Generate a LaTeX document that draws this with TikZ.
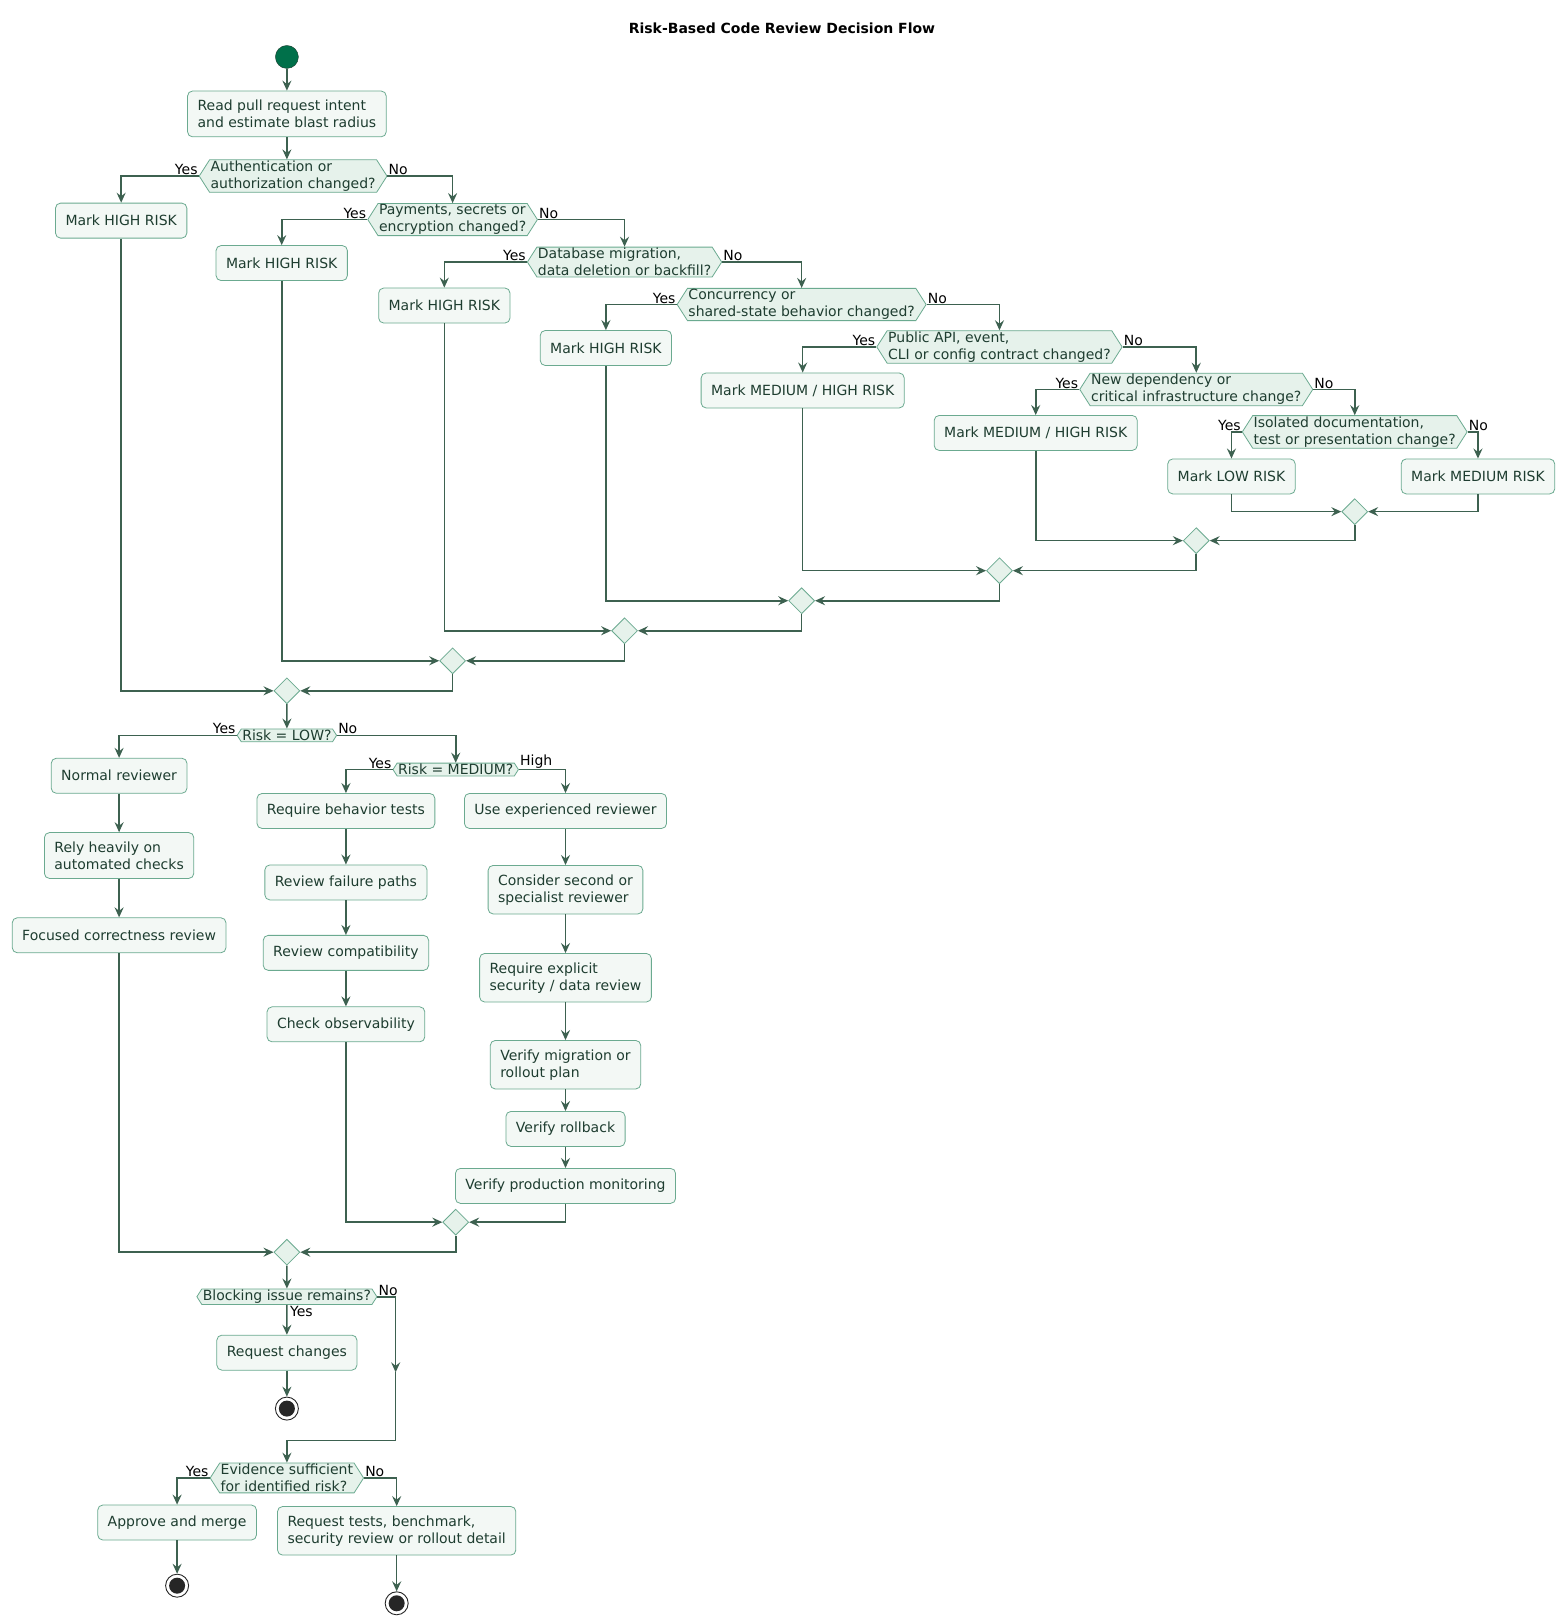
\documentclass[tikz,border=0pt]{standalone}
\usepackage{fontspec}
\setmainfont{DejaVu Sans}
\usetikzlibrary{arrows.meta,shapes.geometric,shapes.symbols,positioning}
\definecolor{boxFill}{HTML}{F3F8F5}
\definecolor{boxLine}{HTML}{6BAA90}
\definecolor{hexFill}{HTML}{E6F2EB}
\definecolor{inkColor}{HTML}{1E3D30}
\definecolor{flowColor}{HTML}{3D6150}
\definecolor{startColor}{HTML}{00704A}
\tikzset{
  >={Stealth[length=10pt,width=9pt,inset=3.5pt]},
  box/.style={rectangle,rounded corners=5pt,draw=boxLine,fill=boxFill,line width=0.8pt,
    text=inkColor,align=left,inner xsep=10pt,inner ysep=9pt,minimum height=35pt,
    font=\fontsize{14}{17}\selectfont},
  hex/.style={signal,signal to=west and east,signal pointer angle=115,draw=boxLine,fill=hexFill,
    line width=0.8pt,text=inkColor,align=left,inner xsep=1pt,inner ysep=1pt,
    font=\fontsize{14}{17}\selectfont},
  merge/.style={diamond,draw=boxLine,fill=hexFill,line width=0.8pt,minimum size=26pt,inner sep=0pt},
  flow/.style={draw=flowColor,line width=1.6pt,->},
  line/.style={draw=flowColor,line width=1.6pt},
  lab/.style={font=\fontsize{14}{17}\selectfont,inner sep=1pt},
  stop/.style={circle,draw=black!85,fill=white,line width=0.9pt,minimum size=23pt,inner sep=0pt,
    path picture={\fill[black!85] (path picture bounding box.center) circle (8pt);}}
}
\begin{document}
\begin{tikzpicture}[x=1.036pt,y=-1.036pt]
\useasboundingbox[fill=white] (0,0) rectangle (1510,1568);
\node[font=\bfseries\fontsize{14}{17}\selectfont] (title) at (755,27) {Risk-Based Code Review Decision Flow};
% start and first check
\node[circle,fill=startColor,draw=inkColor,minimum size=23pt,inner sep=0pt] (start) at (277,55) {};
\node[box] (read) at (277,110) {Read pull request intent\\and estimate blast radius};
\node[hex] (auth) at (283,170) {Authentication or\\authorization changed?};
\node[box] (markA) at (117,213) {Mark HIGH RISK};
\node[hex] (pay) at (437,212) {Payments, secrets or\\encryption changed?};
\node[box] (markB) at (272,254) {Mark HIGH RISK};
\node[hex] (db) at (603,253) {Database migration,\\data deletion or backfill?};
\node[box] (markC) at (429,295) {Mark HIGH RISK};
\node[hex] (conc) at (774,294) {Concurrency or\\shared-state behavior changed?};
\node[box] (markD) at (585,336) {Mark HIGH RISK};
\node[hex] (api) at (965,335) {Public API, event,\\CLI or config contract changed?};
\node[box] (markE) at (775,377) {Mark MEDIUM / HIGH RISK};
\node[hex] (dep) at (1155,376) {New dependency or\\critical infrastructure change?};
\node[box] (markF) at (1000,418) {Mark MEDIUM / HIGH RISK};
\node[hex] (doc) at (1308,417) {Isolated documentation,\\test or presentation change?};
\node[box] (markLow) at (1189,460) {Mark LOW RISK};
\node[box] (markMed) at (1427,460) {Mark MEDIUM RISK};
\node[merge] (mG) at (1308,494) {};
\node[merge] (mF) at (1155,522) {};
\node[merge] (mE) at (965,551) {};
\node[merge] (mD) at (774,580) {};
\node[merge] (mC) at (603,609) {};
\node[merge] (mB) at (437,638) {};
\node[merge] (mA) at (277,667) {};
% review paths
\node[hex] (low) at (277,710) {Risk = LOW?};
\node[box] (normal) at (115,749) {Normal reviewer};
\node[box] (rely) at (115,826) {Rely heavily on\\automated checks};
\node[box] (focus) at (115,903) {Focused correctness review};
\node[hex] (med) at (440,743) {Risk = MEDIUM?};
\node[box] (behav) at (334,783) {Require behavior tests};
\node[box] (fail) at (334,852) {Review failure paths};
\node[box] (compat) at (334,920) {Review compatibility};
\node[box] (observ) at (334,989) {Check observability};
\node[box] (exper) at (546,783) {Use experienced reviewer};
\node[box] (second) at (546,859) {Consider second or\\specialist reviewer};
\node[box] (secur) at (546,944) {Require explicit\\security / data review};
\node[box] (migr) at (546,1028) {Verify migration or\\rollout plan};
\node[box] (rollb) at (546,1090) {Verify rollback};
\node[box] (monit) at (546,1145) {Verify production monitoring};
\node[merge] (mMed) at (440,1180) {};
\node[merge] (mLow) at (277,1209) {};
% final decisions
\node[hex] (block) at (277,1252) {Blocking issue remains?};
\node[box] (changes) at (277,1306) {Request changes};
\node[stop] (stopA) at (277,1360) {};
\coordinate (skipA) at (382,1325);
\coordinate (skipB) at (382,1391);
\node[hex] (evid) at (277,1427) {Evidence sufficient\\for identified risk?};
\node[box] (approve) at (171,1470) {Approve and merge};
\node[stop] (stopB) at (171,1531) {};
\node[box] (more) at (383,1478) {Request tests, benchmark,\\security review or rollout detail};
\node[stop] (stopC) at (383,1548) {};
% labels
\node[lab,anchor=south east] at (auth.west) {Yes};
\node[lab,anchor=south west] at (auth.east) {No};
\node[lab,anchor=south east] at (pay.west) {Yes};
\node[lab,anchor=south west] at (pay.east) {No};
\node[lab,anchor=south east] at (db.west) {Yes};
\node[lab,anchor=south west] at (db.east) {No};
\node[lab,anchor=south east] at (conc.west) {Yes};
\node[lab,anchor=south west] at (conc.east) {No};
\node[lab,anchor=south east] at (api.west) {Yes};
\node[lab,anchor=south west] at (api.east) {No};
\node[lab,anchor=south east] at (dep.west) {Yes};
\node[lab,anchor=south west] at (dep.east) {No};
\node[lab,anchor=south east] at (doc.west) {Yes};
\node[lab,anchor=south west] at (doc.east) {No};
\node[lab,anchor=south east] at (low.west) {Yes};
\node[lab,anchor=south west] at (low.east) {No};
\node[lab,anchor=south east] at (med.west) {Yes};
\node[lab,anchor=south west] at (med.east) {High};
\node[lab,anchor=north west] at ([xshift=2pt]block.south) {Yes};
\node[lab,anchor=south west] at (block.east) {No};
\node[lab,anchor=south east] at (evid.west) {Yes};
\node[lab,anchor=south west] at (evid.east) {No};
% connectors
\draw[flow] (start) -- (read);
\draw[flow] (read) -- (read |- auth.north);
\draw[flow] (auth.west) -| (markA);
\draw[flow] (auth.east) -| (pay);
\draw[flow] (pay.west) -| (markB);
\draw[flow] (pay.east) -| (db);
\draw[flow] (db.west) -| (markC);
\draw[flow] (db.east) -| (conc);
\draw[flow] (conc.west) -| (markD);
\draw[flow] (conc.east) -| (api);
\draw[flow] (api.west) -| (markE);
\draw[flow] (api.east) -| (dep);
\draw[flow] (dep.west) -| (markF);
\draw[flow] (dep.east) -| (doc);
\draw[flow] (doc.west) -| (markLow);
\draw[flow] (doc.east) -| (markMed);
\draw[flow] (markLow) |- (mG.west);
\draw[flow] (markMed) |- (mG.east);
\draw[flow] (markF) |- (mF.west);
\draw[flow] (mG) |- (mF.east);
\draw[flow] (markE) |- (mE.west);
\draw[flow] (mF) |- (mE.east);
\draw[flow] (markD) |- (mD.west);
\draw[flow] (mE) |- (mD.east);
\draw[flow] (markC) |- (mC.west);
\draw[flow] (mD) |- (mC.east);
\draw[flow] (markB) |- (mB.west);
\draw[flow] (mC) |- (mB.east);
\draw[flow] (markA) |- (mA.west);
\draw[flow] (mB) |- (mA.east);
\draw[flow] (mA) -- (low);
\draw[flow] (low.west) -| (normal);
\draw[flow] (low.east) -| (med);
\draw[flow] (normal) -- (rely);
\draw[flow] (rely) -- (focus);
\draw[flow] (med.west) -| (behav);
\draw[flow] (med.east) -| (exper);
\draw[flow] (behav) -- (fail);
\draw[flow] (fail) -- (compat);
\draw[flow] (compat) -- (observ);
\draw[flow] (exper) -- (second);
\draw[flow] (second) -- (secur);
\draw[flow] (secur) -- (migr);
\draw[flow] (migr) -- (rollb);
\draw[flow] (rollb) -- (monit);
\draw[flow] (observ) |- (mMed.west);
\draw[flow] (monit) |- (mMed.east);
\draw[flow] (focus) |- (mLow.west);
\draw[flow] (mMed) |- (mLow.east);
\draw[flow] (mLow) -- (block);
\draw[flow] (block) -- (changes);
\draw[flow] (changes) -- (stopA);
\draw[flow] (block.east) -| (skipA);
\draw[line] (skipA) -- (skipB);
\draw[flow] (skipB) -| (evid);
\draw[flow] (evid.west) -| (approve);
\draw[flow] (evid.east) -| (more);
\draw[flow] (approve) -- (stopB);
\draw[flow] (more) -- (stopC);
\end{tikzpicture}
\end{document}
